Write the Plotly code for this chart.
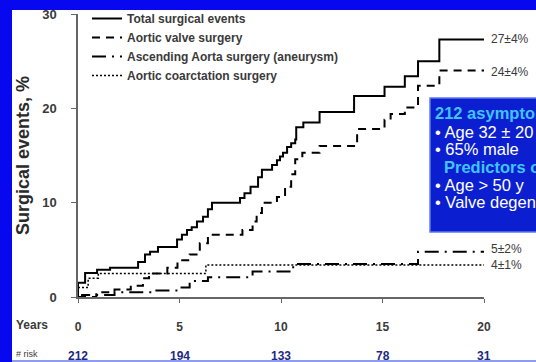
import plotly.graph_objects as go

# ---------------- data (years, cumulative %) ----------------
total_t = [0, 0, 0.35, 0.94, 1.58, 2.96, 3.3, 3.55, 3.94, 4.88, 5.12, 5.37, 5.6, 5.86, 6.16, 6.4, 6.6,
           7.98, 8.2, 8.5, 8.87, 9.06, 9.56, 9.8, 9.95, 10.1, 10.3, 10.5, 10.7, 10.75, 11.1, 11.9,
           13.6, 15.1, 16.1, 16.75, 17.8, 20]
total_y = [0, 1.5, 2.55, 2.9, 3.1, 3.7, 4.5, 4.8, 5.3, 6.1, 6.6, 7.1, 7.4, 8.0, 8.5, 9.3, 10.0,
           10.5, 11.0, 11.7, 12.7, 13.5, 14.0, 14.5, 14.9, 15.3, 15.9, 16.3, 16.7, 18.0, 18.5, 19.6,
           21.3, 22.3, 23.4, 25.0, 27.3, 27.3]

valve_t = [0, 0.9, 1.8, 2.6, 3.2, 3.5, 4.4, 4.9, 5.5, 6.0, 6.4, 8.1, 8.6, 8.8, 9.06, 9.8, 10.2,
           10.5, 10.7, 11.05, 11.9, 13.75, 15.1, 15.4, 16.1, 16.75, 17.8, 20]
valve_y = [0, 0.5, 0.8, 1.2, 2.0, 2.5, 3.1, 3.9, 4.5, 5.7, 6.6, 7.1, 8.0, 8.9, 10.0, 10.6, 11.7,
           13.0, 14.6, 15.3, 16.0, 17.8, 18.8, 19.4, 20.1, 22.4, 24.0, 24.0]

aorta_t = [0, 0.2, 1.8, 3.8, 5.0, 5.5, 6.4, 8.6, 10.6, 16.75, 20]
aorta_y = [0, 0.2, 0.5, 0.7, 1.0, 1.7, 2.1, 2.7, 3.5, 4.8, 4.8]

coarc_t = [0, 0.5, 1.0, 6.3, 20]
coarc_y = [1.0, 2.0, 2.5, 3.4, 3.4]

series_names = ["Total surgical events", "Aortic valve surgery",
                "Ascending Aorta surgery (aneurysm)", "Aortic coarctation surgery"]
end_labels = ["27±4%", "24±4%", "5±2%", "4±1%"]
end_label_y = [27.3, 23.9, 5.1, 3.4]

x_ticks = [0, 5, 10, 15, 20]
at_risk = [212, 194, 133, 78, 31]
y_ticks = [0, 10, 20, 30]

box_lines = ["212 asymptomatic BAV", "• Age 32 ± 20 y", "• 65% male",
             "Predictors of surgery", "• Age > 50 y", "• Valve degeneration"]
box_line_kind = ["head", "item", "item", "head", "item", "item"]

# ---------------- figure ----------------
W, H = 536, 362
L, R, T, B = 78, 52, 14, 65
pw, ph = W - L - R, H - T - B
FONT = "Arial, Liberation Sans, sans-serif"
GRAY = "#3a3a3a"
BLUE = "#0808f0"


def px_x(p):
    return (p - L) / pw


def px_y(p):
    return (H - B - p) / ph


fig = go.Figure()
styles = [
    dict(color="black", width=2, dash="solid"),
    dict(color="black", width=2, dash="8px,6px"),
    dict(color="black", width=2, dash="14px,6px,2px,6px"),
    dict(color="black", width=1.5, dash="2px,2px"),
]
for name, t, y, st in zip(series_names, [total_t, valve_t, aorta_t, coarc_t],
                          [total_y, valve_y, aorta_y, coarc_y], styles):
    fig.add_trace(go.Scatter(x=t, y=y, mode="lines", name=name, line_shape="hv",
                             line=st, hoverinfo="skip"))

shapes = [
    dict(type="rect", xref="paper", yref="paper", x0=px_x(0), x1=px_x(W + 5), y0=px_y(10), y1=px_y(-5),
         fillcolor=BLUE, line_width=0, layer="below"),
    dict(type="rect", xref="paper", yref="paper", x0=px_x(-5), x1=px_x(12), y0=px_y(H + 5), y1=px_y(-5),
         fillcolor=BLUE, line_width=0, layer="below"),
    dict(type="rect", xref="paper", yref="paper", x0=px_x(12), x1=px_x(W + 5), y0=px_y(H + 5), y1=px_y(360),
         fillcolor="#8c9cf0", line_width=0, layer="below"),
    dict(type="rect", xref="paper", yref="paper", x0=px_x(430), x1=px_x(W + 10), y0=px_y(232), y1=px_y(98),
         fillcolor="#0b1fd0", line=dict(color="#5d7bf0", width=1.5), layer="above"),
]

ann = []
for lab, yy in zip(end_labels, end_label_y):
    ann.append(dict(x=px_x(489), y=yy, xref="paper", yref="y", text=lab, showarrow=False,
                    xanchor="left", yanchor="middle", font=dict(family=FONT, size=12, color=GRAY)))

box_y = [113, 132, 149, 167, 185, 202]
for txt, kind, yy in zip(box_lines, box_line_kind, box_y):
    head = kind == "head"
    xx = 433 if (not head or txt.startswith("212")) else 442
    ann.append(dict(x=px_x(xx), y=px_y(yy), xref="paper", yref="paper", text=txt, showarrow=False,
                    xanchor="left", yanchor="middle",
                    font=dict(family=FONT, size=16.5, color="#40c4ff" if head else "white",
                              weight="bold" if head else "normal")))

ann.append(dict(x=px_x(14), y=px_y(325), xref="paper", yref="paper", text="Years", showarrow=False,
                xanchor="left", yanchor="middle", font=dict(family=FONT, size=12, color=GRAY, weight="bold")))
ann.append(dict(x=px_x(14), y=px_y(354), xref="paper", yref="paper", text="# risk", showarrow=False,
                xanchor="left", yanchor="middle", font=dict(family=FONT, size=9, color=GRAY)))
for xt, n in zip(x_ticks, at_risk):
    ann.append(dict(x=xt, y=px_y(356), xref="x", yref="paper", text=str(n), showarrow=False,
                    xanchor="center", yanchor="middle",
                    font=dict(family=FONT, size=12, color="#1d2a80", weight="bold")))

fig.update_layout(
    width=W, height=H,
    margin=dict(l=L, r=R, t=T, b=B, pad=0, autoexpand=False),
    paper_bgcolor="white", plot_bgcolor="white",
    font=dict(family=FONT, color=GRAY),
    shapes=shapes, annotations=ann,
    legend=dict(x=px_x(87), y=px_y(4), xanchor="left", yanchor="top", bgcolor="rgba(0,0,0,0)",
                font=dict(family=FONT, size=12, color=GRAY, weight="bold"), tracegroupgap=0),
    xaxis=dict(range=[0, 20], tickvals=x_ticks, showgrid=False, zeroline=False,
               showline=True, linecolor="#666", linewidth=2, ticks="outside", ticklen=4,
               tickcolor="#666", ticklabelstandoff=14,
               tickfont=dict(family=FONT, size=12, color=GRAY, weight="bold")),
    yaxis=dict(range=[0, 30], tickvals=y_ticks, showgrid=False, zeroline=False,
               showline=True, linecolor="#666", linewidth=1.5, ticks="outside", ticklen=5,
               tickcolor="#666", ticklabelstandoff=12,
               tickfont=dict(family=FONT, size=13, color=GRAY, weight="bold"),
               title=dict(text="Surgical events, %", standoff=8,
                          font=dict(family=FONT, size=18, color="#2a2a2a", weight="bold"))),
)

fig.write_html("out.html")
